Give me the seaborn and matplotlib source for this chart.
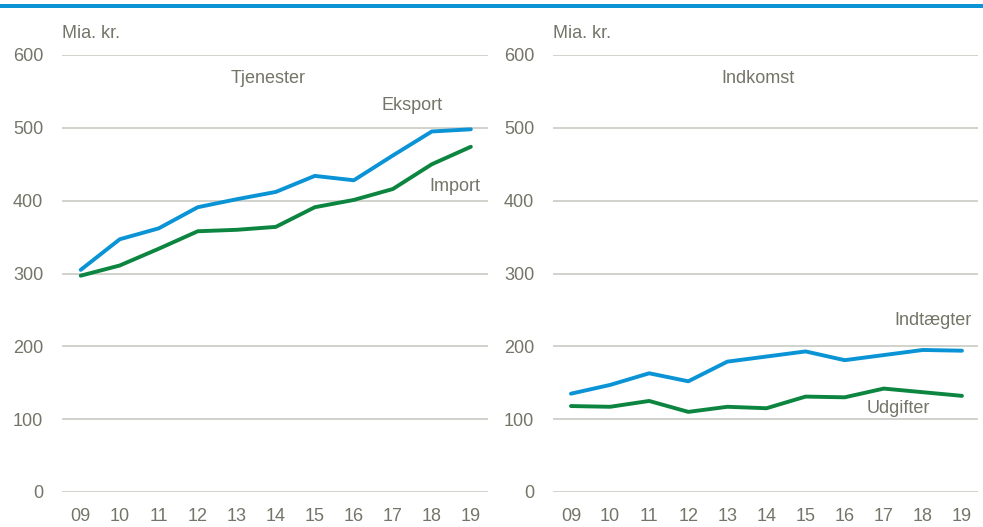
import matplotlib
matplotlib.use("Agg")
import matplotlib.pyplot as plt
import seaborn as sns
import pandas as pd
from matplotlib.patches import Rectangle

years = ["09", "10", "11", "12", "13", "14", "15", "16", "17", "18", "19"]
eksport = [305, 347, 362, 391, 402, 412, 434, 428, 462, 495, 498]
import_ = [297, 311, 334, 358, 360, 364, 391, 401, 416, 450, 474]
indtaegter = [135, 147, 163, 152, 179, 186, 193, 181, 188, 195, 194]
udgifter = [118, 117, 125, 110, 117, 115, 131, 130, 142, 137, 132]
yticks = [0, 100, 200, 300, 400, 500, 600]

sns.set_theme(style="white")
plt.rcParams['font.family'] = ['Liberation Sans', 'DejaVu Sans']

TXT = "#747468"
GRID = "#c6c6be"
BLUE = "#0a93d5"
GREEN = "#0b853f"
FS = 13

fig = plt.figure(figsize=(9.83, 5.27), dpi=100)
fig.patches.append(Rectangle((0, 1 - 7.5/527), 1, 3/527, transform=fig.transFigure,
                             facecolor=BLUE, edgecolor="none"))

bottom = 1 - 492/527
height = (492 - 55)/527

panels = [
    dict(left=62, right=488, xlim=(-0.48, 10.44), s1=eksport, s2=import_,
         n1="Eksport", n2="Import", title="Tjenester",
         l1=(8.5, 531), l2=(9.6, 419), t=(4.8, 568)),
    dict(left=553, right=978, xlim=(-0.46, 10.41), s1=indtaegter, s2=udgifter,
         n1="Indtægter", n2="Udgifter", title="Indkomst",
         l1=(9.27, 236), l2=(8.37, 115), t=(4.79, 568)),
]

for p in panels:
    ax = fig.add_axes([p["left"]/983, bottom, (p["right"] - p["left"])/983, height])
    df = pd.DataFrame({
        "x": list(range(len(years))) * 2,
        "v": p["s1"] + p["s2"],
        "s": [p["n1"]] * len(years) + [p["n2"]] * len(years),
    })
    for yv in yticks:
        ax.axhline(yv, color=GRID, lw=1.1, zorder=0)
    sns.lineplot(data=df, x="x", y="v", hue="s", palette=[BLUE, GREEN],
                 linewidth=2.8, legend=False, ax=ax, zorder=3)
    ax.set_xlim(*p["xlim"])
    ax.set_ylim(0, 600)
    ax.set_xticks(range(len(years)))
    ax.set_xticklabels(years)
    ax.set_yticks(yticks)
    ax.set_xlabel("")
    ax.set_ylabel("")
    for sp in ax.spines.values():
        sp.set_visible(False)
    ax.tick_params(axis="y", length=0, pad=13.5, labelsize=FS, labelcolor=TXT)
    ax.tick_params(axis="x", length=0, pad=11.5, labelsize=FS, labelcolor=TXT)
    ax.text(0, 1.03, "Mia. kr.", transform=ax.transAxes, ha="left", va="bottom",
            fontsize=FS, color=TXT)
    ax.text(*p["t"], p["title"], ha="center", va="center", fontsize=FS, color=TXT)
    ax.text(*p["l1"], p["n1"], ha="center", va="center", fontsize=FS, color=TXT)
    ax.text(*p["l2"], p["n2"], ha="center", va="center", fontsize=FS, color=TXT)
    ax.patch.set_alpha(0)

fig.savefig("out.png", dpi=100)
